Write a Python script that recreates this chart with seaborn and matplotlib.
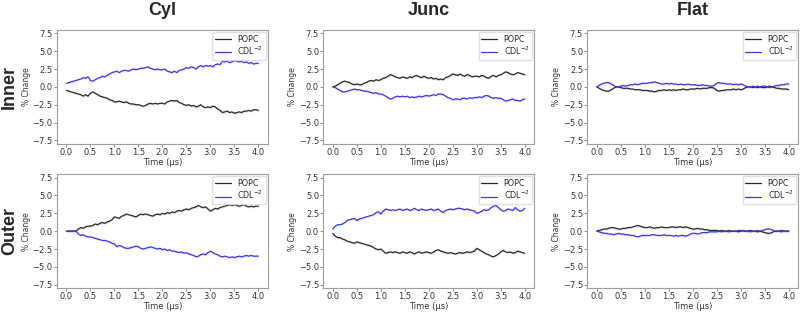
import numpy as np
import matplotlib
matplotlib.use("Agg")
import matplotlib.pyplot as plt
import seaborn as sns

# DATA  (% change vs time, every 0.05 us)
time_us = np.linspace(0.0, 4.0, 81)

cyl_inner_popc = [
    -0.5, -0.6, -0.7, -0.8, -0.9, -1.0, -1.1, -1.3, -1.1, -1.3,
    -0.9, -0.7, -0.9, -1.1, -1.3, -1.4, -1.5, -1.6, -1.8, -1.9,
    -2.1, -2.1, -2.0, -2.1, -2.2, -2.1, -2.3, -2.4, -2.4, -2.5,
    -2.5, -2.6, -2.7, -2.6, -2.4, -2.3, -2.4, -2.3, -2.4, -2.3,
    -2.3, -2.4, -2.1, -2.0, -1.9, -2.0, -1.9, -2.2, -2.3, -2.5,
    -2.6, -2.5, -2.7, -2.6, -2.8, -2.7, -2.5, -2.8, -2.9, -2.8,
    -2.9, -2.7, -2.8, -3.1, -3.3, -3.6, -3.5, -3.4, -3.6, -3.5,
    -3.7, -3.6, -3.5, -3.6, -3.4, -3.4, -3.3, -3.4, -3.2, -3.2,
    -3.3]
cyl_inner_cdl = [
    0.5, 0.6, 0.7, 0.8, 0.9, 1.0, 1.1, 1.3, 1.2, 1.4,
    0.9, 0.8, 1.0, 1.2, 1.3, 1.5, 1.4, 1.6, 1.8, 2.0,
    2.1, 2.2, 2.0, 2.2, 2.3, 2.3, 2.2, 2.4, 2.5, 2.4,
    2.5, 2.6, 2.6, 2.7, 2.8, 2.6, 2.5, 2.4, 2.5, 2.4,
    2.4, 2.5, 2.2, 2.1, 2.0, 2.2, 2.0, 2.3, 2.4, 2.5,
    2.7, 2.6, 2.8, 2.7, 2.5, 2.8, 3.0, 2.8, 3.0, 2.9,
    3.0, 2.8, 3.1, 3.2, 3.1, 3.6, 3.5, 3.6, 3.4, 3.5,
    3.7, 3.6, 3.5, 3.6, 3.4, 3.5, 3.3, 3.4, 3.2, 3.3,
    3.3]

junc_inner_popc = [
    0.0, 0.1, 0.3, 0.5, 0.7, 0.8, 0.7, 0.6, 0.4, 0.3,
    0.4, 0.3, 0.3, 0.5, 0.6, 0.8, 0.9, 0.8, 1.0, 0.9,
    1.0, 1.2, 1.3, 1.5, 1.7, 1.6, 1.4, 1.3, 1.2, 1.4,
    1.3, 1.2, 1.4, 1.3, 1.5, 1.6, 1.4, 1.3, 1.5, 1.3,
    1.2, 1.3, 1.1, 1.2, 1.0, 1.1, 1.0, 1.3, 1.4, 1.6,
    1.8, 1.7, 1.6, 1.8, 1.6, 1.5, 1.7, 1.6, 1.4, 1.5,
    1.5, 1.4, 1.6, 1.5, 1.3, 1.2, 1.5, 1.6, 1.4, 1.6,
    1.7, 1.9, 2.1, 2.0, 1.8, 1.7, 1.8, 2.0, 1.9, 1.8,
    1.7]
junc_inner_cdl = [
    0.0, -0.1, -0.3, -0.5, -0.7, -0.7, -0.6, -0.5, -0.4, -0.3,
    -0.4, -0.4, -0.5, -0.6, -0.6, -0.7, -0.8, -0.9, -0.8, -1.0,
    -1.0, -1.1, -1.3, -1.5, -1.7, -1.6, -1.4, -1.3, -1.4, -1.3,
    -1.4, -1.3, -1.5, -1.4, -1.5, -1.4, -1.3, -1.4, -1.3, -1.2,
    -1.3, -1.2, -1.1, -1.2, -1.0, -1.0, -1.1, -1.3, -1.5, -1.6,
    -1.8, -1.7, -1.7, -1.8, -1.6, -1.6, -1.7, -1.5, -1.6, -1.5,
    -1.5, -1.4, -1.5, -1.3, -1.2, -1.3, -1.5, -1.6, -1.5, -1.6,
    -1.6, -1.8, -2.0, -1.9, -1.8, -1.7, -1.9, -1.9, -2.0, -1.8,
    -1.7]

flat_inner_popc = [
    0.0, -0.2, -0.4, -0.5, -0.6, -0.6, -0.4, -0.2, 0.0, 0.0,
    -0.1, -0.2, -0.2, -0.2, -0.3, -0.3, -0.4, -0.4, -0.4, -0.5,
    -0.5, -0.5, -0.6, -0.6, -0.7, -0.6, -0.5, -0.5, -0.4, -0.5,
    -0.4, -0.5, -0.4, -0.5, -0.4, -0.4, -0.3, -0.4, -0.4, -0.3,
    -0.3, -0.3, -0.2, -0.3, -0.2, -0.2, -0.2, -0.1, -0.1, -0.2,
    -0.5, -0.6, -0.5, -0.5, -0.4, -0.4, -0.4, -0.3, -0.4, -0.3,
    -0.4, -0.3, -0.1, 0.0, 0.0, -0.1, 0.0, -0.1, 0.0, -0.1,
    -0.1, 0.0, 0.1, 0.0, -0.1, -0.2, -0.2, -0.3, -0.3, -0.3,
    -0.4]
flat_inner_cdl = [
    0.0, 0.2, 0.4, 0.5, 0.6, 0.6, 0.4, 0.2, 0.0, 0.0,
    0.1, 0.2, 0.1, 0.2, 0.3, 0.3, 0.4, 0.3, 0.4, 0.5,
    0.5, 0.5, 0.6, 0.6, 0.7, 0.6, 0.5, 0.4, 0.4, 0.5,
    0.4, 0.5, 0.4, 0.4, 0.3, 0.4, 0.3, 0.3, 0.4, 0.3,
    0.3, 0.3, 0.2, 0.2, 0.3, 0.2, 0.2, 0.1, 0.1, 0.2,
    0.5, 0.6, 0.5, 0.5, 0.4, 0.4, 0.4, 0.3, 0.4, 0.3,
    0.4, 0.3, 0.1, 0.0, 0.0, 0.1, 0.0, 0.1, 0.0, 0.1,
    0.1, 0.0, -0.1, 0.0, 0.1, 0.2, 0.2, 0.3, 0.3, 0.4,
    0.4]

cyl_outer_popc = [
    0.0, 0.0, 0.0, 0.0, 0.0, 0.3, 0.5, 0.4, 0.6, 0.7,
    0.7, 0.8, 1.0, 0.9, 1.1, 1.2, 1.1, 1.3, 1.4, 1.6,
    2.0, 1.9, 1.8, 2.1, 2.2, 2.4, 2.3, 2.2, 2.1, 2.0,
    2.2, 2.4, 2.3, 2.4, 2.3, 2.2, 2.1, 2.3, 2.4, 2.3,
    2.5, 2.4, 2.6, 2.5, 2.7, 2.6, 2.8, 2.9, 2.8, 3.0,
    3.1, 3.0, 3.2, 3.3, 3.4, 3.6, 3.4, 3.3, 3.4, 3.1,
    2.8, 3.0, 3.2, 3.1, 3.3, 3.4, 3.5, 3.6, 3.7, 3.6,
    3.7, 3.6, 3.5, 3.6, 3.7, 3.5, 3.4, 3.5, 3.4, 3.5,
    3.5]
cyl_outer_cdl = [
    0.0, 0.0, 0.0, 0.0, 0.0, -0.4, -0.6, -0.5, -0.7, -0.8,
    -0.8, -0.9, -1.0, -1.1, -1.2, -1.3, -1.3, -1.4, -1.5, -1.7,
    -1.8, -2.2, -2.0, -2.1, -2.3, -2.4, -2.4, -2.3, -2.2, -2.1,
    -2.2, -2.4, -2.5, -2.4, -2.3, -2.2, -2.3, -2.4, -2.5, -2.4,
    -2.6, -2.5, -2.7, -2.6, -2.8, -2.8, -2.9, -3.0, -2.9, -3.1,
    -3.0, -3.2, -3.3, -3.4, -3.6, -3.5, -3.3, -3.2, -3.3, -3.0,
    -2.8, -3.0, -3.2, -3.3, -3.5, -3.6, -3.5, -3.6, -3.7, -3.6,
    -3.7, -3.6, -3.5, -3.6, -3.5, -3.4, -3.5, -3.4, -3.5, -3.5,
    -3.5]

junc_outer_popc = [
    -0.3, -0.7, -0.9, -0.9, -1.1, -1.2, -1.4, -1.5, -1.6, -1.7,
    -1.5, -1.6, -1.7, -1.8, -1.9, -2.0, -2.1, -2.3, -2.5, -2.6,
    -2.5, -2.8, -3.1, -3.0, -2.9, -3.0, -2.9, -3.0, -3.1, -2.9,
    -3.0, -3.1, -2.9, -3.0, -3.2, -3.0, -2.9, -3.1, -3.0, -2.9,
    -3.0, -3.1, -2.9, -2.7, -2.6, -2.8, -2.9, -3.0, -3.1, -3.0,
    -3.1, -3.2, -3.1, -3.0, -3.1, -3.0, -2.9, -3.0, -2.9, -2.8,
    -2.4, -2.6, -2.8, -3.0, -3.2, -3.3, -3.5, -3.6, -3.4, -3.2,
    -2.9, -2.7, -2.9, -3.0, -2.9, -3.1, -3.0, -2.8, -2.9, -3.0,
    -3.1]
junc_outer_cdl = [
    0.3, 0.7, 0.9, 0.9, 1.0, 1.2, 1.5, 1.6, 1.7, 1.8,
    1.5, 1.7, 1.8, 1.9, 2.0, 2.1, 2.2, 2.3, 2.6, 2.7,
    2.4, 2.8, 3.1, 3.0, 2.9, 3.0, 2.9, 3.0, 3.1, 2.9,
    3.0, 3.1, 2.9, 3.0, 3.2, 3.0, 2.9, 3.1, 3.0, 2.9,
    3.0, 3.1, 2.9, 3.0, 3.1, 2.8, 2.6, 2.9, 3.0, 3.1,
    3.0, 3.1, 3.2, 3.2, 3.1, 3.0, 3.1, 3.0, 2.9, 2.8,
    2.5, 2.6, 2.8, 3.0, 2.9, 3.0, 3.3, 3.5, 3.6, 3.3,
    3.0, 2.8, 2.9, 3.1, 3.0, 2.9, 3.3, 3.0, 2.8, 2.9,
    3.2]

flat_outer_popc = [
    0.0, 0.1, 0.2, 0.3, 0.3, 0.4, 0.5, 0.5, 0.4, 0.3,
    0.3, 0.4, 0.4, 0.5, 0.5, 0.6, 0.7, 0.8, 0.7, 0.6,
    0.5, 0.5, 0.6, 0.5, 0.4, 0.5, 0.5, 0.6, 0.5, 0.5,
    0.5, 0.6, 0.6, 0.5, 0.6, 0.6, 0.5, 0.6, 0.5, 0.4,
    0.3, 0.3, 0.4, 0.3, 0.3, 0.2, 0.2, 0.1, 0.1, 0.1,
    0.1, 0.0, 0.1, 0.0, 0.0, 0.1, 0.0, 0.0, 0.0, -0.1,
    0.0, 0.1, 0.0, 0.0, 0.1, 0.0, 0.0, -0.1, 0.0, -0.1,
    -0.2, -0.3, -0.3, -0.2, 0.0, 0.0, 0.0, 0.1, 0.0, 0.0,
    0.0]
flat_outer_cdl = [
    0.0, -0.1, -0.2, -0.3, -0.3, -0.4, -0.4, -0.5, -0.4, -0.3,
    -0.4, -0.4, -0.5, -0.5, -0.6, -0.6, -0.7, -0.8, -0.7, -0.6,
    -0.6, -0.6, -0.6, -0.5, -0.5, -0.6, -0.6, -0.6, -0.5, -0.6,
    -0.6, -0.6, -0.7, -0.6, -0.7, -0.6, -0.6, -0.7, -0.6, -0.4,
    -0.3, -0.3, -0.4, -0.3, -0.2, -0.2, -0.2, -0.1, -0.1, -0.1,
    -0.1, 0.0, -0.1, 0.0, 0.0, -0.1, 0.0, 0.0, 0.0, 0.1,
    0.1, 0.0, 0.0, 0.0, -0.1, 0.0, 0.0, 0.1, 0.0, 0.1,
    0.2, 0.3, 0.3, 0.2, 0.0, 0.0, 0.0, -0.1, 0.0, 0.0,
    0.0]

columns = ["Cyl", "Junc", "Flat"]
rows = ["Inner", "Outer"]
series_labels = ["POPC", "CDL$^{-2}$"]
yticks = [-7.5, -5.0, -2.5, 0.0, 2.5, 5.0, 7.5]
xticks = [0.0, 0.5, 1.0, 1.5, 2.0, 2.5, 3.0, 3.5, 4.0]

panels = {
    ("Inner", "Cyl"): (cyl_inner_popc, cyl_inner_cdl),
    ("Inner", "Junc"): (junc_inner_popc, junc_inner_cdl),
    ("Inner", "Flat"): (flat_inner_popc, flat_inner_cdl),
    ("Outer", "Cyl"): (cyl_outer_popc, cyl_outer_cdl),
    ("Outer", "Junc"): (junc_outer_popc, junc_outer_cdl),
    ("Outer", "Flat"): (flat_outer_popc, flat_outer_cdl),
}

# STYLE
sns.set_style("ticks", {"axes.edgecolor": "0.62"})
plt.rcParams["font.family"] = ["DejaVu Sans"]
colors = ["#2a2a2a", "#3838ec"]
band = 0.15

fig = plt.figure(figsize=(8, 3.13), dpi=100)
lefts = [0.071, 0.404, 0.734]
bottoms = [0.540, 0.079]
width, height = 0.264, 0.365

for r, row in enumerate(rows):
    for c, col in enumerate(columns):
        ax = fig.add_axes([lefts[c], bottoms[r], width, height])
        for vals, color, label in zip(panels[(row, col)], colors, series_labels):
            vals = np.asarray(vals)
            ax.fill_between(time_us, vals - band, vals + band,
                            color=color, alpha=0.12, linewidth=0)
            sns.lineplot(x=time_us, y=vals, ax=ax, color=color,
                         linewidth=0.9, label=label)
        ax.set_ylim(-8.0, 8.0)
        ax.set_xlim(-0.2, 4.2)
        ax.set_yticks(yticks)
        ax.set_xticks(xticks)
        ax.tick_params(labelsize=6, length=2, width=0.6,
                       color="0.5", labelcolor="0.2", pad=1)
        for s in ax.spines.values():
            s.set_linewidth(0.8)
        ax.set_xlabel("Time (\u03bcs)", fontsize=6, labelpad=0.5, color="0.2")
        ax.set_ylabel("% Change", fontsize=5.5, labelpad=1, color="0.2")
        ax.legend(loc="upper right", fontsize=5.8, frameon=True,
                  handlelength=2.0, borderpad=0.3, labelspacing=0.15,
                  borderaxespad=0.3, fancybox=False, edgecolor="0.85")

# column titles and row labels
for c, col in enumerate(columns):
    fig.text(lefts[c] + width / 2, 0.965, col, ha="center", va="center",
             fontsize=13, fontweight="bold", family=["Liberation Sans", "DejaVu Sans"])
for r, row in enumerate(rows):
    fig.text(0.012, bottoms[r] + height / 2, row, ha="center", va="center",
             rotation=90, fontsize=13, fontweight="bold",
             family=["Liberation Sans", "DejaVu Sans"])

fig.savefig("out.png", dpi=100)
